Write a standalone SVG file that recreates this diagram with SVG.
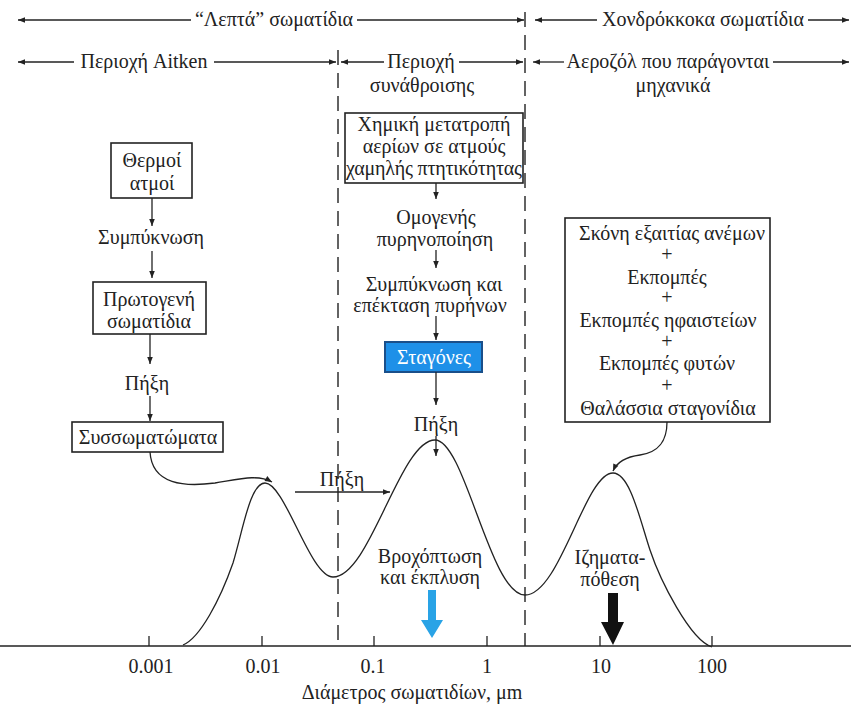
<svg xmlns="http://www.w3.org/2000/svg" width="851" height="707" viewBox="0 0 851 707">
<style>
text{font-family:"Liberation Serif","Times New Roman",serif;font-size:20px;fill:#222;}
.c{text-anchor:middle;}
.ln{stroke:#222;stroke-width:1.3;fill:none;}
.box{fill:#fff;stroke:#222;stroke-width:1.6;}
.dash{stroke:#222;stroke-width:1.4;stroke-dasharray:15 8;fill:none;}
.ar{stroke:#222;stroke-width:1.3;fill:none;marker-end:url(#ah);}
.ars{stroke:#222;stroke-width:1.3;fill:none;marker-start:url(#ah);}
</style>
<defs>
<marker id="ah" viewBox="0 0 10 10" refX="10" refY="5" markerUnits="userSpaceOnUse" markerWidth="9" markerHeight="7" orient="auto-start-reverse">
<path d="M0,1 L10,5 L0,9 z" fill="#222"/>
</marker>
</defs>
<rect width="851" height="707" fill="#fff"/>

<g id="axis">
<line x1="0" y1="646" x2="851" y2="646" stroke="#222" stroke-width="1.6"/>
<g class="ln">
<line x1="149" y1="636" x2="149" y2="646"/>
<line x1="262" y1="636" x2="262" y2="646"/>
<line x1="374" y1="636" x2="374" y2="646"/>
<line x1="487" y1="636" x2="487" y2="646"/>
<line x1="600" y1="636" x2="600" y2="646"/>
<line x1="712" y1="636" x2="712" y2="646"/>
</g>
<text class="c" x="151" y="673">0.001</text>
<text class="c" x="263" y="673">0.01</text>
<text class="c" x="373" y="673">0.1</text>
<text class="c" x="487" y="673">1</text>
<text class="c" x="601" y="673">10</text>
<text class="c" x="712" y="673">100</text>
<text class="c" x="412" y="699">Διάμετρος σωματιδίων, μm</text>
</g>

<g id="dividers">
<line class="dash" x1="338" y1="50" x2="338" y2="646"/>
<line class="dash" x1="525" y1="12" x2="525" y2="646"/>
</g>

<g id="headers">
<line class="ars" x1="18" y1="20" x2="191" y2="20"/>
<text class="c" x="274" y="26">“Λεπτά” σωματίδια</text>
<line class="ar" x1="357" y1="20" x2="524" y2="20"/>
<line class="ars" x1="535" y1="20" x2="597" y2="20"/>
<text class="c" x="703" y="26">Χονδρόκκοκα σωματίδια</text>
<line class="ar" x1="808" y1="20" x2="849" y2="20"/>

<line class="ars" x1="18" y1="62" x2="74" y2="62"/>
<text class="c" x="144" y="68">Περιοχή Aitken</text>
<line class="ar" x1="214" y1="62" x2="336" y2="62"/>
<line class="ars" x1="341" y1="62" x2="384" y2="62"/>
<text class="c" x="421" y="68">Περιοχή</text>
<text class="c" x="422" y="92">συνάθροισης</text>
<line class="ar" x1="459" y1="62" x2="523" y2="62"/>
<line class="ars" x1="533" y1="62" x2="564" y2="62"/>
<text class="c" x="668" y="68">Αεροζόλ που παράγονται</text>
<text class="c" x="673" y="92">μηχανικά</text>
<line class="ar" x1="773" y1="62" x2="849" y2="62"/>
</g>

<g id="curve">
<path class="ln" stroke-width="1.6" d="M183,645 C200,638 220,600 233,563 C243,530 250,483 265,483 C285,483 310,577 333,577 C370,577 400,440 435,440 C465,440 490,595 525,595 C560,595 585,473 613,473 C630,473 640,520 650,550 C660,580 690,640 712,647"/>
</g>

<g id="n-thermoi">
<rect class="box" x="111" y="143" width="81" height="55"/>
<text class="c" x="152" y="167">Θερμοί</text>
<text class="c" x="152" y="190">ατμοί</text>
</g>
<g id="n-sympyknosi1"><text class="c" x="151" y="244">Συμπύκνωση</text></g>
<g id="n-protogeni">
<rect class="box" x="93" y="282" width="113" height="52"/>
<text class="c" x="149" y="306">Πρωτογενή</text>
<text class="c" x="149" y="328">σωματίδια</text>
</g>
<g id="n-pixi1"><text class="c" x="147" y="390">Πήξη</text></g>
<g id="n-syssomatomata">
<rect class="box" x="72" y="422" width="151" height="30"/>
<text class="c" x="148" y="444">Συσσωματώματα</text>
</g>

<g id="n-ximiki">
<rect class="box" x="345" y="113" width="178" height="70"/>
<text class="c" x="434" y="131">Χημική μετατροπή</text>
<text class="c" x="434" y="153">αερίων σε ατμούς</text>
<text class="c" x="434" y="175" textLength="176">χαμηλής πτητικότητας</text>
</g>
<g id="n-omogenis">
<text class="c" x="436" y="224">Ομογενής</text>
<text class="c" x="435" y="246">πυρηνοποίηση</text>
</g>
<g id="n-sympyknosi2">
<text class="c" x="434" y="291">Συμπύκνωση και</text>
<text class="c" x="430" y="312">επέκταση πυρήνων</text>
</g>
<g id="n-stagones">
<rect x="385" y="342" width="97" height="30" fill="#1e90e8" stroke="#1a4f8a" stroke-width="2"/>
<text class="c" x="434" y="364" style="fill:#fff">Σταγόνες</text>
</g>
<g id="n-pixi2"><text class="c" x="436" y="431">Πήξη</text></g>
<g id="n-pixi3"><text class="c" x="342" y="486">Πήξη</text></g>
<g id="n-vroxoptosi">
<text class="c" x="430" y="563">Βροχόπτωση</text>
<text class="c" x="430" y="584">και έκπλυση</text>
</g>
<g id="n-izimatapothesi">
<text class="c" x="610" y="564">Ιζηματα-</text>
<text class="c" x="610" y="586">πόθεση</text>
</g>
<g id="n-sources">
<rect class="box" x="565" y="218" width="205" height="204"/>
<text class="c" x="672" y="240">Σκόνη εξαιτίας ανέμων</text>
<text class="c" x="667" y="261">+</text>
<text class="c" x="667" y="284">Εκπομπές</text>
<text class="c" x="667" y="304">+</text>
<text class="c" x="668" y="327">Εκπομπές ηφαιστείων</text>
<text class="c" x="667" y="348">+</text>
<text class="c" x="667" y="370">Εκπομπές φυτών</text>
<text class="c" x="667" y="392">+</text>
<text class="c" x="668" y="415">Θαλάσσια σταγονίδια</text>
</g>

<g id="connectors">
<line class="ar" x1="152" y1="198" x2="152" y2="226"/>
<line class="ar" x1="152" y1="251" x2="152" y2="278"/>
<line class="ar" x1="150" y1="334" x2="150" y2="364"/>
<line class="ar" x1="150" y1="396" x2="150" y2="421"/>
<path class="ar" d="M150,452 C152,485 185,487 215,483 C240,479 258,474 272,482"/>
<line class="ar" x1="436" y1="183" x2="436" y2="199"/>
<line class="ar" x1="436" y1="250" x2="436" y2="268"/>
<line class="ar" x1="436" y1="316" x2="436" y2="340"/>
<line class="ar" x1="436" y1="372" x2="436" y2="405"/>
<line class="ar" x1="436" y1="436" x2="436" y2="456"/>
<line class="ar" x1="295" y1="492" x2="390" y2="492"/>
<path class="ar" d="M667,422 C667,440 660,452 640,455 C625,457 617,462 613,471"/>
<polygon points="428,590 436,590 436,620 443,620 432,638 421,620 428,620" fill="#29a3e6"/>
<polygon points="608,593 618,593 618,622 624,622 613,645 601,622 608,622" fill="#111"/>
</g>
</svg>
